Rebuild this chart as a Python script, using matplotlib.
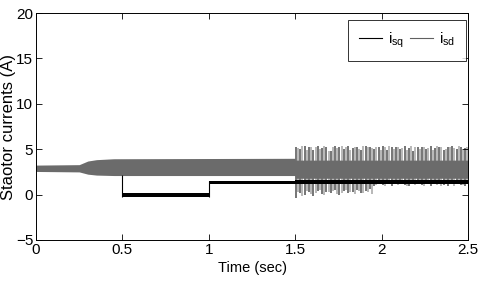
import numpy as np
import matplotlib
matplotlib.use("Agg")
import matplotlib.pyplot as plt
from matplotlib.lines import Line2D

plt.rcParams["font.family"] = ["Liberation Sans", "DejaVu Sans"]
plt.rcParams["mathtext.fontset"] = "custom"
plt.rcParams["mathtext.rm"] = "Liberation Sans"

# i_sq (black): envelope of the thick step line
sq_t = [0.0, 0.5, 0.5, 1.0, 1.0, 1.5, 1.5, 2.5]
sq_hi = [3.0, 3.0, 0.15, 0.15, 1.55, 1.55, 1.65, 1.65]
sq_lo = [2.6, 2.6, -0.25, -0.25, 1.15, 1.15, 1.2, 1.2]

# i_sd (grey): envelope of the dense oscillation
sd_t = [0.0, 0.25, 0.3, 0.35, 0.45, 1.5, 1.5, 2.5]
sd_hi = [3.25, 3.3, 3.7, 3.85, 3.95, 4.0, 3.8, 3.8]
sd_lo = [2.55, 2.5, 2.25, 2.15, 2.1, 2.1, 1.8, 1.8]

# i_sd spikes after t = 1.5 s (dark and light strokes)
dark_hi = [5.3, 5.0, 5.4, 5.2, 4.9, 5.4, 5.1, 5.3, 4.8, 5.4, 5.2, 5.0, 5.4, 5.1,
           5.3, 4.9, 5.4, 5.2, 5.0, 5.3, 5.4, 4.9, 5.2, 5.3, 5.0, 5.4, 5.1, 4.8,
           5.3, 5.2, 5.0, 5.4, 5.1, 5.3, 4.9, 5.2, 5.4, 5.0, 5.3, 5.1]
dark_lo = [-0.4, 0.2, 0.0, 0.3, -0.2, 0.4, 0.1, 0.3, 0.2, 0.5, 0.0, 0.4, 0.2, 0.3,
           0.5, 0.2, 0.4, 0.6, 1.0, 1.2, 1.1, 1.3, 1.0, 1.2, 1.4, 1.1, 1.0, 1.3,
           1.2, 1.1, 1.4, 1.0, 1.2, 1.3, 1.1, 1.0, 1.2, 1.4, 1.1, 1.0]
light_hi = [5.1, 5.4, 4.9, 5.3, 5.2, 5.0, 5.4, 4.8, 5.3, 5.1, 5.4, 5.2, 4.9, 5.3,
            5.0, 5.4, 5.2, 5.1, 5.3, 4.9, 5.2, 5.4, 5.0, 5.3, 5.1, 4.9, 5.4, 5.2,
            5.0, 5.3, 5.1, 4.9, 5.4, 5.2, 5.0, 5.3, 5.1, 5.4, 4.9, 5.2]
light_lo = [0.3, -0.1, 0.4, 0.1, 0.2, 0.5, 0.0, 0.3, 0.4, 0.1, 0.2, 0.5, 0.3, 0.1,
            0.4, 0.2, 0.3, 0.1, 1.1, 1.3, 1.0, 1.2, 1.4, 1.1, 1.3, 1.0, 1.2, 1.1,
            1.4, 1.0, 1.3, 1.2, 1.1, 1.0, 1.3, 1.2, 1.0, 1.4, 1.1, 1.2]

dark_t = np.linspace(1.505, 2.485, len(dark_hi))
light_t = dark_t + 0.012

fig = plt.figure(figsize=(4.8, 2.85), dpi=100)
ax = fig.add_axes([0.075, 0.158, 0.9, 0.796])

grey = "#6b6b6b"
ax.vlines(light_t, light_lo, light_hi, color="#ababab", lw=1.2, zorder=1)
ax.vlines(dark_t, dark_lo, dark_hi, color="#5e5e5e", lw=1.2, zorder=1)
ax.fill_between(sq_t, sq_lo, sq_hi, color="black", lw=0, zorder=1.5)
ax.fill_between(sd_t, sd_lo, sd_hi, color=grey, lw=0, zorder=2)
ax.vlines([0.5, 1.0], [-0.25, -0.25], [2.2, 1.55], color="black", lw=0.8, zorder=3)

ax.set_xlim(0, 2.5)
ax.set_ylim(-5, 20)
ax.set_xticks([0, 0.5, 1, 1.5, 2, 2.5])
ax.set_xticklabels(["0", "0.5", "1", "1.5", "2", "2.5"])
ax.set_yticks([-5, 0, 5, 10, 15, 20])
ax.tick_params(direction="in", top=True, right=True, labelsize=11, length=4,
               width=0.6, pad=2)
for s in ax.spines.values():
    s.set_linewidth(0.7)

ax.set_xlabel("Time (sec)", fontsize=10.5, labelpad=3)
ax.set_ylabel("Staotor currents (A)", fontsize=12, labelpad=0)

handles = [Line2D([], [], color="black", lw=0.8),
           Line2D([], [], color="#606060", lw=0.8)]
leg = ax.legend(handles, [r"$\mathrm{i}_{\mathrm{sq}}$", r"$\mathrm{i}_{\mathrm{sd}}$"],
                loc="upper right", bbox_to_anchor=(0.995, 0.97), borderaxespad=0,
                ncol=2, fontsize=11, frameon=True, fancybox=False,
                handlelength=1.5, columnspacing=0.4, handletextpad=0.4,
                borderpad=0.7)
leg.get_frame().set_edgecolor("black")
leg.get_frame().set_linewidth(0.7)

fig.savefig("out.png", dpi=100)
